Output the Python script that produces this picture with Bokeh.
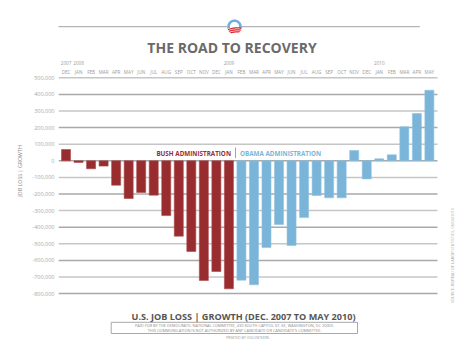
import math
from bokeh.plotting import figure
from bokeh.models import Range1d, FixedTicker, NumeralTickFormatter, BoxAnnotation, ColumnDataSource
from bokeh.transform import factor_cmap
from bokeh.embed import file_html
from bokeh.resources import INLINE
from bokeh.core.properties import value

# ---------------- data ----------------
months = ["DEC", "JAN", "FEB", "MAR", "APR", "MAY", "JUN", "JUL", "AUG", "SEP", "OCT", "NOV",
          "DEC", "JAN", "FEB", "MAR", "APR", "MAY", "JUN", "JUL", "AUG", "SEP", "OCT", "NOV",
          "DEC", "JAN", "FEB", "MAR", "APR", "MAY"]
jobs = [68000, -10000, -48000, -32000, -147000, -227000, -191000, -207000, -330000, -454000,
        -546000, -721000, -667000, -771000, -719000, -747000, -522000, -384000, -510000, -342000,
        -209000, -223000, -223000, 62000, -109000, 12000, 36000, 205000, 285000, 425000]
admin = ["Bush", "Bush", "Bush", "Bush", "Bush", "Bush", "Bush", "Bush", "Bush", "Bush",
         "Bush", "Bush", "Bush", "Bush", "Obama", "Obama", "Obama", "Obama", "Obama", "Obama",
         "Obama", "Obama", "Obama", "Obama", "Obama", "Obama", "Obama", "Obama", "Obama", "Obama"]
years = ["2007", "2008", "2009", "2010"]
year_month_index = [0, 1, 13, 25]
y_ticks = [500000, 400000, 300000, 200000, 100000, 0, -100000, -200000, -300000,
           -400000, -500000, -600000, -700000, -800000]

# ---------------- layout helpers (page pixel -> data) ----------------
W, H = 468, 341
FRAME_L = 58.0          # px where the frame starts
PXM = 12.53             # px per month
X0 = -0.6
X1 = X0 + (W - FRAME_L) / PXM
ZERO = 160.3            # y px of zero line
PX100K = 16.6
Y1 = ZERO / PX100K * 1e5
Y0 = -(H - ZERO) / PX100K * 1e5


def dx(ix):
    return X0 + (ix - FRAME_L) / PXM


def dy(iy):
    return (ZERO - iy) / PX100K * 1e5


RED = "#982c2f"
BLUE = "#7ab5d9"
GRAY = "#6a6a6a"
FONT = value("Open Sans")

p = figure(width=W, height=H, x_range=Range1d(X0, X1), y_range=Range1d(Y0, Y1),
           output_backend="svg", toolbar_location=None, x_axis_location=None,
           min_border_left=int(FRAME_L), min_border_right=0, min_border_top=0, min_border_bottom=0)
p.outline_line_color = None
p.xgrid.visible = False
p.ygrid.visible = False
p.background_fill_color = "white"
p.border_fill_color = "white"

# y axis
ax = p.yaxis[0]
ax.ticker = FixedTicker(ticks=y_ticks)
ax.formatter = NumeralTickFormatter(format="0,0")
ax.bounds = (-800000, 2 * dy(165) + 800000)
ax.axis_line_color = None
ax.major_tick_line_color = None
ax.minor_tick_line_color = None
ax.major_tick_out = 0
ax.major_tick_in = 0
ax.major_label_standoff = 4
ax.major_label_text_font = "Open Sans"
ax.major_label_text_font_size = "5.5px"
ax.major_label_text_color = "#a8a8a8"
ax.axis_label = "JOB LOSS | GROWTH"
ax.axis_label_standoff = 5
ax.axis_label_text_font = "Open Sans"
ax.axis_label_text_font_style = "normal"
ax.axis_label_text_font_size = "5.3px"
ax.axis_label_text_color = "#8a8a8a"

# gridlines
grid_colors = ["#c6c6c6" if (t // 100000) % 2 else "#a9a9a9" for t in y_ticks]
p.segment(x0=[X0] * len(y_ticks), x1=[dx(437)] * len(y_ticks), y0=y_ticks, y1=y_ticks,
          line_color=grid_colors, line_width=1.5)

# bars
src = ColumnDataSource(dict(x=list(range(len(months))), jobs=jobs, admin=admin))
p.vbar(x="x", top="jobs", bottom=0, width=0.72, source=src,
       fill_color=factor_cmap("admin", palette=[RED, BLUE], factors=["Bush", "Obama"]),
       line_color=factor_cmap("admin", palette=["#a9494b", "#8fc2e0"], factors=["Bush", "Obama"]),
       line_width=0.6)

# month + year labels
p.text(x=list(range(len(months))), y=[dy(71)] * len(months), text=months,
       text_font=FONT, text_font_size="4.6px", text_color="#9a9a9a",
       text_align="center", text_baseline="middle")
p.text(x=year_month_index, y=[dy(62)] * len(years), text=years,
       text_font=FONT, text_font_size="4.6px", text_color="#9a9a9a",
       text_align="center", text_baseline="middle")

# header line + logo
p.add_layout(BoxAnnotation(left=dx(48), right=dx(419.3), top=dy(25.4), bottom=dy(26.8),
                           fill_color="#b3b3b3", fill_alpha=1, line_color=None, level="underlay"))
LCX, LCY, LR = 234.0, 26.3, 7.3


def to_data(pts):
    return [dx(LCX + a) for a, b in pts], [dy(LCY + b) for a, b in pts]


circle_pts = [(LR * math.cos(2 * math.pi * k / 60), LR * math.sin(2 * math.pi * k / 60)) for k in range(60)]
ring = [(LR * math.cos(math.radians(t)), -LR * math.sin(math.radians(t))) for t in range(-15, 196, 5)]
ring += [(4.6 * math.cos(math.radians(t)), -4.6 * math.sin(math.radians(t)) - 0.3) for t in range(195, -16, -5)]
patch_xs, patch_ys, patch_cols = [], [], []
xs_, ys_ = to_data(circle_pts)
patch_xs.append(xs_); patch_ys.append(ys_); patch_cols.append("white")
xs_, ys_ = to_data(ring)
patch_xs.append(xs_); patch_ys.append(ys_); patch_cols.append("#6bb0dc")
for t0, h in [(0.6, 1.3), (2.6, 1.3), (4.6, 1.3)]:
    top, bot = [], []
    for k in range(41):
        xx = -LR + 2 * LR * k / 40
        yb = math.sqrt(max(LR * LR - xx * xx, 0))
        tt = t0 - 0.12 * xx + 0.02 * xx * xx
        if tt < yb:
            top.append((xx, tt))
            bot.append((xx, min(tt + h, yb)))
    pts = top + bot[::-1]
    xs_, ys_ = to_data(pts)
    patch_xs.append(xs_); patch_ys.append(ys_); patch_cols.append("#d8262e")
p.patches(xs=patch_xs, ys=patch_ys, fill_color=patch_cols, line_color=None)

# title
p.text(x=[dx(231.5)], y=[dy(46.8)], text=["THE ROAD TO RECOVERY"], text_font=FONT,
       text_font_style="bold", text_font_size="14px", text_color=GRAY,
       text_align="center", text_baseline="middle")

# administration labels
p.text(x=[dx(230.5)], y=[dy(152.5)], text=["BUSH ADMINISTRATION"], text_font=FONT,
       text_font_style="bold", text_font_size="6.3px", text_color=RED,
       text_align="right", text_baseline="middle")
p.text(x=[dx(239.5)], y=[dy(152.5)], text=["OBAMA ADMINISTRATION"], text_font=FONT,
       text_font_style="bold", text_font_size="6.3px", text_color=BLUE,
       text_align="left", text_baseline="middle")
p.segment(x0=[dx(235)], x1=[dx(235)], y0=[dy(147)], y1=[dy(157.5)], line_color="#8c8c8c", line_width=0.8)

# source
p.text(x=[dx(451.5)], y=[dy(255)], text=["SOURCE: BUREAU OF LABOR STATISTICS, 06/04/2010"],
       angle=math.pi / 2, text_font=FONT, text_font_size="3.9px", text_color="#ababab",
       text_align="center", text_baseline="middle")

# bottom title
p.text(x=[dx(243)], y=[dy(316)], text=["U.S. JOB LOSS | GROWTH (DEC. 2007 TO MAY 2010)"],
       text_font=FONT, text_font_style="bold", text_font_size="9.1px", text_color="#555555",
       text_align="center", text_baseline="middle")

# disclaimer box
p.quad(left=[dx(110.7)], right=[dx(357)], top=[dy(321.8)], bottom=[dy(333)],
       fill_color=None, line_color="#a8a8a8", line_width=1)
p.text(x=[dx(234), dx(234)], y=[dy(325.4), dy(329.6)],
       text=["PAID FOR BY THE DEMOCRATIC NATIONAL COMMITTEE, 430 SOUTH CAPITOL ST. SE, WASHINGTON, DC 20003.",
             "THIS COMMUNICATION IS NOT AUTHORIZED BY ANY CANDIDATE OR CANDIDATE'S COMMITTEE."],
       text_font=FONT, text_font_size="3.9px", text_color="#8a8a8a",
       text_align="center", text_baseline="middle")
p.text(x=[dx(247)], y=[dy(337.3)], text=["PRINTED BY VOLUNTEERS"],
       text_font=FONT, text_font_size="3.6px", text_color="#9a9a9a",
       text_align="center", text_baseline="middle")

open("out.html", "w").write(file_html(p, INLINE))
